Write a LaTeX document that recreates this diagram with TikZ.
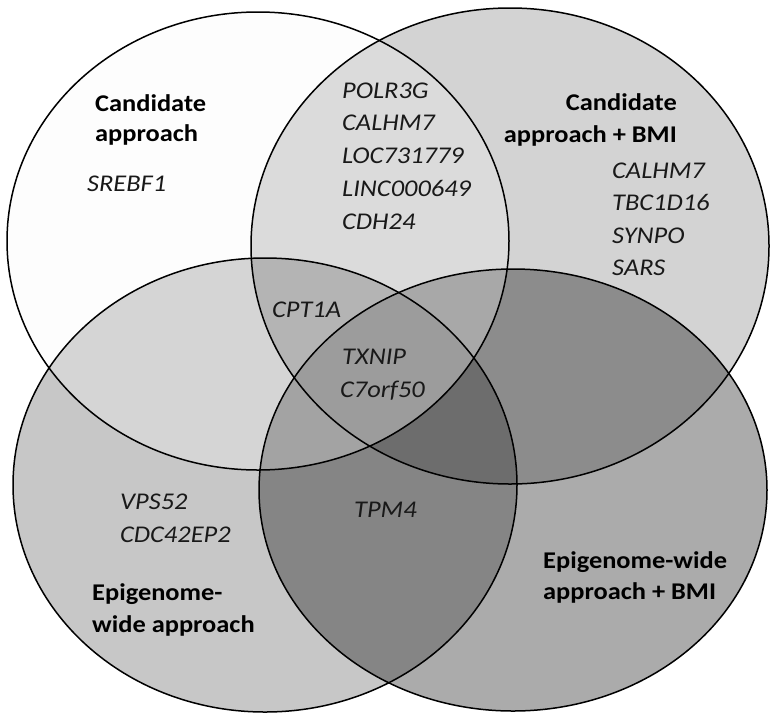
\documentclass[tikz,border=0pt]{standalone}
\usepackage{fontspec}
\setmainfont{Carlito}[FakeStretch=1.1]
\definecolor{cA}{HTML}{FDFDFD}
\definecolor{cB}{HTML}{D3D3D3}
\definecolor{cC}{HTML}{C7C7C7}
\definecolor{cD}{HTML}{ABABAB}
\definecolor{cAB}{HTML}{DBDBDB}
\definecolor{cAC}{HTML}{D5D5D5}
\definecolor{cBD}{HTML}{8C8C8C}
\definecolor{cCD}{HTML}{858585}
\definecolor{cAD}{HTML}{A0A0A0}
\definecolor{cBC}{HTML}{A0A0A0}
\definecolor{cABC}{HTML}{B4B4B4}
\definecolor{cABD}{HTML}{A8A8A8}
\definecolor{cACD}{HTML}{A3A3A3}
\definecolor{cBCD}{HTML}{6D6D6D}
\definecolor{cABCD}{HTML}{9C9C9C}
\tikzset{
  pA/.style={insert path={(258,241) ellipse [x radius=251pt, y radius=229pt]}},
  pB/.style={insert path={(510,246) ellipse [x radius=259pt, y radius=238pt]}},
  pC/.style={insert path={(265,485) ellipse [x radius=252pt, y radius=227pt]}},
  pD/.style={insert path={(513,490) ellipse [x radius=254pt, y radius=221pt]}},
  outline/.style={draw=black, line width=1.5pt},
  gene/.style={font=\fontsize{24}{29}\selectfont\itshape, inner sep=0pt, text=black!90},
  head/.style={font=\fontsize{24}{29}\selectfont\bfseries, inner sep=0pt, text=black},
}
\begin{document}
\begin{tikzpicture}[x=1pt,y=-1pt]
\useasboundingbox (0,0) rectangle (776,718);
\fill[white] (0,0) rectangle (776,718);
% single sets
\fill[cA, pA];
\fill[cB, pB];
\fill[cC, pC];
\fill[cD, pD];
% pairs
\begin{scope}\clip[pA];\fill[cAB, pB];\end{scope}
\begin{scope}\clip[pA];\fill[cAC, pC];\end{scope}
\begin{scope}\clip[pA];\fill[cAD, pD];\end{scope}
\begin{scope}\clip[pB];\fill[cBC, pC];\end{scope}
\begin{scope}\clip[pB];\fill[cBD, pD];\end{scope}
\begin{scope}\clip[pC];\fill[cCD, pD];\end{scope}
% triples
\begin{scope}\clip[pA];\clip[pB];\fill[cABC, pC];\end{scope}
\begin{scope}\clip[pA];\clip[pB];\fill[cABD, pD];\end{scope}
\begin{scope}\clip[pA];\clip[pC];\fill[cACD, pD];\end{scope}
\begin{scope}\clip[pB];\clip[pC];\fill[cBCD, pD];\end{scope}
% all four
\begin{scope}\clip[pA];\clip[pB];\clip[pC];\fill[cABCD, pD];\end{scope}
% outlines
\draw[outline, pA];
\draw[outline, pB];
\draw[outline, pC];
\draw[outline, pD];
% headings
\node[head, anchor=base west] (hA1) at (95,111) {Candidate};
\node[head, anchor=base west] (hA2) at (95,141) {approach};
\node[head, anchor=base east] (hB1) at (677,110) {Candidate};
\node[head, anchor=base east] (hB2) at (677,142) {approach + BMI};
\node[head, anchor=base west] (hC1) at (92,600) {Epigenome-};
\node[head, anchor=base west] (hC2) at (92,632) {wide approach};
\node[head, anchor=base west] (hD1) at (543,568) {Epigenome-wide};
\node[head, anchor=base west] (hD2) at (543,599) {approach + BMI};
% genes
\node[gene, anchor=base west] (gA) at (87,191) {SREBF1};
\node[gene, anchor=base west] (gAB1) at (342,98) {POLR3G};
\node[gene, anchor=base west] (gAB2) at (342,130) {CALHM7};
\node[gene, anchor=base west] (gAB3) at (342,163) {LOC731779};
\node[gene, anchor=base west] (gAB4) at (342,196) {LINC000649};
\node[gene, anchor=base west] (gAB5) at (342,229) {CDH24};
\node[gene, anchor=base west] (gB1) at (612,178) {CALHM7};
\node[gene, anchor=base west] (gB2) at (612,210) {TBC1D16};
\node[gene, anchor=base west] (gB3) at (612,243) {SYNPO};
\node[gene, anchor=base west] (gB4) at (612,275) {SARS};
\node[gene, anchor=base west] (gABC) at (272,317) {CPT1A};
\node[gene, anchor=base west] (gABCD1) at (342,364) {TXNIP};
\node[gene, anchor=base west] (gABCD2) at (340,397) {C7orf50};
\node[gene, anchor=base west] (gC1) at (120,509) {VPS52};
\node[gene, anchor=base west] (gC2) at (120,542) {CDC42EP2};
\node[gene, anchor=base west] (gCD) at (354,517) {TPM4};
\end{tikzpicture}
\end{document}
